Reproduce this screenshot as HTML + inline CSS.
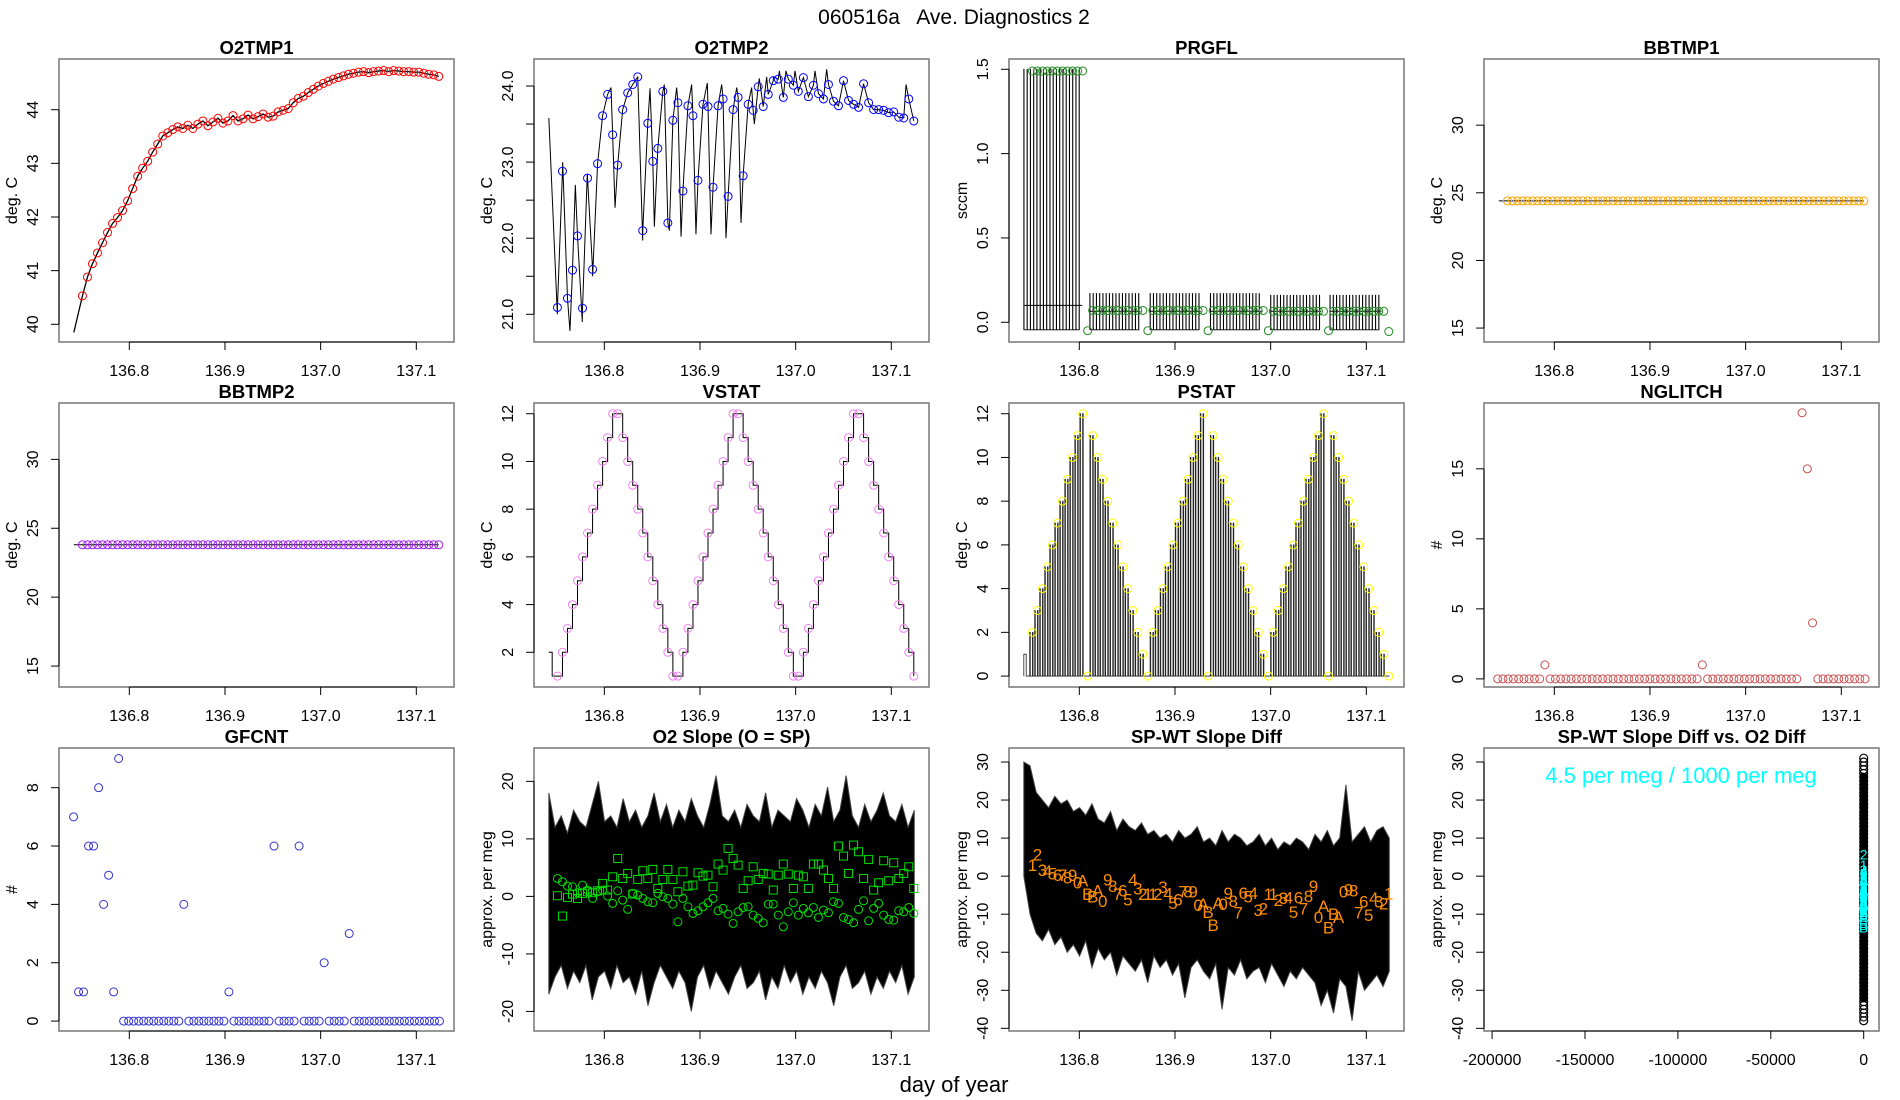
<!DOCTYPE html>
<html><head><meta charset="utf-8"><title>060516a Ave. Diagnostics 2</title>
<style>
html,body{margin:0;padding:0;background:#fff;}
svg{display:block;font-family:"Liberation Sans",Arial,sans-serif;}
</style></head>
<body>
<svg id="chart" width="1900" height="1100" viewBox="0 0 1900 1100" xmlns="http://www.w3.org/2000/svg">
<rect x="0" y="0" width="1900" height="1100" fill="#fff"/>
<text x="954" y="24" font-size="21" text-anchor="middle" xml:space="preserve">060516a   Ave. Diagnostics 2</text>
<text x="954" y="1092" font-size="22" text-anchor="middle">day of year</text>
</svg>
<script>
// ---------- data ----------
const T0 = 136.751, T1 = 137.1235;
const o2tmp1Vals = [40.53,40.88,41.13,41.33,41.52,41.71,41.88,41.99,42.12,42.30,42.53,42.76,42.91,43.04,43.21,43.36,43.51,43.57,43.63,43.68,43.65,43.71,43.65,43.73,43.79,43.70,43.77,43.84,43.75,43.79,43.89,43.79,43.83,43.90,43.83,43.87,43.92,43.86,43.88,43.96,43.99,44.02,44.13,44.21,44.25,44.32,44.38,44.44,44.49,44.53,44.57,44.60,44.63,44.66,44.68,44.70,44.71,44.69,44.71,44.72,44.73,44.71,44.73,44.72,44.71,44.71,44.70,44.70,44.68,44.66,44.65,44.62];
const o2tmp2Vals = [21.09,22.88,21.21,21.58,22.03,21.08,22.79,21.59,22.98,23.61,23.89,23.36,22.96,23.69,23.91,24.02,24.12,22.10,23.51,23.01,23.18,23.93,22.20,23.55,23.78,22.62,23.74,23.61,22.76,23.76,23.73,22.67,23.74,23.83,22.55,23.69,23.85,22.82,23.76,23.68,23.99,23.73,23.89,24.07,24.09,23.85,24.09,24.01,23.93,24.11,23.86,24.01,23.90,23.83,24.02,23.80,23.74,24.07,23.81,23.76,23.72,24.03,23.78,23.69,23.69,23.68,23.65,23.66,23.59,23.58,23.83,23.54];
const o2tmp2ExtT = [136.7509,136.7565,136.7641,136.7697,136.7770,136.7822,136.7878,136.8070,136.8112,136.8349,136.8401,136.8478,136.8523,136.8627,136.8680,136.8756,136.8802,136.8913,136.8958,136.9077,136.9115,136.9227,136.9272,136.9384,136.9429,136.9540,136.9568,136.9620,136.9697,136.9767,136.9830,136.9899,136.9993,137.0202,137.0324,137.1154];
const o2tmp2ExtV = [21.0,23.0,20.78,22.7,20.9,22.85,21.5,23.98,22.4,24.12,21.97,23.97,22.15,24.02,22.1,23.98,22.02,24.02,22.05,24.04,22.05,24.02,22.0,23.98,22.2,23.98,23.5,24.1,24.12,24.12,24.2,24.2,24.2,24.2,24.22,24.02];
const prgVals = [1.49,1.49,1.49,1.49,1.49,1.49,1.49,1.49,1.49,1.49,1.49,-0.05,0.07,0.07,0.07,0.07,0.07,0.07,0.07,0.07,0.07,0.07,0.07,-0.05,0.07,0.07,0.07,0.07,0.07,0.07,0.07,0.07,0.07,0.07,0.07,-0.05,0.07,0.07,0.07,0.07,0.07,0.07,0.07,0.07,0.07,0.07,0.07,-0.05,0.065,0.065,0.065,0.065,0.065,0.065,0.065,0.065,0.065,0.065,0.065,-0.05,0.065,0.065,0.065,0.065,0.065,0.065,0.065,0.065,0.065,0.065,0.065,-0.055];
const prgSecStart = [136.742,136.811,136.874,136.937,137.000,137.062];
const prgSecEnd   = [136.803,136.864,136.927,136.991,137.053,137.116];
const prgSecHi    = [1.50,0.17,0.17,0.17,0.16,0.16];
const bbtmp1Vals = [24.4,24.4,24.4,24.4,24.4,24.4,24.4,24.4,24.4,24.4,24.4,24.4,24.4,24.4,24.4,24.4,24.4,24.4,24.4,24.4,24.4,24.4,24.4,24.4,24.4,24.4,24.4,24.4,24.4,24.4,24.4,24.4,24.4,24.4,24.4,24.4,24.4,24.4,24.4,24.4,24.4,24.4,24.4,24.4,24.4,24.4,24.4,24.4,24.4,24.4,24.4,24.4,24.4,24.4,24.4,24.4,24.4,24.4,24.4,24.4,24.4,24.4,24.4,24.4,24.4,24.4,24.4,24.4,24.4,24.4,24.4,24.4];
const bbtmp2Vals = [23.8,23.8,23.8,23.8,23.8,23.8,23.8,23.8,23.8,23.8,23.8,23.8,23.8,23.8,23.8,23.8,23.8,23.8,23.8,23.8,23.8,23.8,23.8,23.8,23.8,23.8,23.8,23.8,23.8,23.8,23.8,23.8,23.8,23.8,23.8,23.8,23.8,23.8,23.8,23.8,23.8,23.8,23.8,23.8,23.8,23.8,23.8,23.8,23.8,23.8,23.8,23.8,23.8,23.8,23.8,23.8,23.8,23.8,23.8,23.8,23.8,23.8,23.8,23.8,23.8,23.8,23.8,23.8,23.8,23.8,23.8,23.8];
const vstatVals = [1,2,3,4,5,6,7,8,9,10,11,12,12,11,10,9,8,7,6,5,4,3,2,1,1,2,3,4,5,6,7,8,9,10,11,12,12,11,10,9,8,7,6,5,4,3,2,1,1,2,3,4,5,6,7,8,9,10,11,12,12,11,10,9,8,7,6,5,4,3,2,1];
const pstatVals = [2,3,4,5,6,7,8,9,10,11,12,0,11,10,9,8,7,6,5,4,3,2,1,0,2,3,4,5,6,7,8,9,10,11,12,0,11,10,9,8,7,6,5,4,3,2,1,0,2,3,4,5,6,7,8,9,10,11,12,0,11,10,9,8,7,6,5,4,3,2,1,0];
const nglT0 = 136.7408, nglT1 = 137.1248;
const nglitchVals = [0,0,0,0,0,0,0,0,0,1,0,0,0,0,0,0,0,0,0,0,0,0,0,0,0,0,0,0,0,0,0,0,0,0,0,0,0,0,0,1,0,0,0,0,0,0,0,0,0,0,0,0,0,0,0,0,0,0,19,15,4,0,0,0,0,0,0,0,0,0,0];
const gfT0 = 136.7417, gfT1 = 137.1242;
const gfcntVals = [7,1,1,6,6,8,4,5,1,9,0,0,0,0,0,0,0,0,0,0,0,0,4,0,0,0,0,0,0,0,0,1,0,0,0,0,0,0,0,0,6,0,0,0,0,6,0,0,0,0,2,0,0,0,0,3,0,0,0,0,0,0,0,0,0,0,0,0,0,0,0,0,0,0];
const slopeCircVals = [3.12,2.55,1.79,1.68,0.63,1.97,1.10,-0.35,0.81,1.10,0.05,-1.22,0.98,-0.64,-2.26,0.52,0.23,-0.35,-0.93,-1.11,0.52,-0.06,-0.35,-1.34,-4.41,-0.35,-1.80,-2.96,-2.50,-1.80,-1.11,-0.35,-2.50,-2.09,-3.08,-4.70,-2.67,-1.92,-1.80,-3.25,-3.83,-4.59,-1.34,-1.34,-3.25,-5.28,-2.67,-1.11,-3.25,-2.09,-2.85,-1.92,-3.66,-2.38,-2.85,-0.93,-1.22,-3.66,-4.01,-4.59,-2.26,-0.76,-4.24,-2.09,-1.22,-3.25,-4.01,-4.12,-2.50,-2.67,-1.92,-2.96];
const slopeSqVals = [0.11,-3.42,-0.18,0.40,-0.35,0.52,0.81,0.63,0.98,2.26,1.10,3.41,6.60,3.12,4.00,0.40,2.95,4.46,3.12,4.69,1.39,2.95,4.69,2.95,0.81,4.28,1.79,1.97,4.11,3.53,3.70,1.68,5.62,4.57,8.35,6.60,5.44,1.39,2.72,5.15,2.95,4.00,3.88,1.10,3.70,5.62,3.88,1.39,3.70,3.41,1.39,5.62,5.62,4.57,3.12,1.39,8.75,7.01,4.00,8.92,7.76,3.12,6.43,1.10,2.37,6.20,2.72,5.85,3.12,4.00,5.15,1.39];
const noiseT0 = 136.742, noiseT1 = 137.124;
const slopeHi = [18,12,14,11,15,13,12,16,20,13,14,12,17,13,15,12,14,18,13,16,12,15,13,17,14,12,16,21,14,13,15,12,16,14,13,18,12,15,14,13,17,15,12,16,14,19,13,15,21,14,12,16,13,15,18,14,13,16,12,15];
const slopeLo = [-17,-14,-12,-16,-13,-15,-12,-18,-14,-13,-16,-12,-15,-14,-17,-13,-19,-15,-12,-14,-16,-13,-15,-20,-14,-12,-16,-13,-15,-17,-14,-12,-16,-15,-13,-18,-14,-16,-12,-15,-13,-17,-14,-16,-13,-15,-19,-14,-12,-16,-15,-13,-17,-14,-16,-13,-15,-12,-17,-14];
const spwtHi = [30,29,22,20,18,21,19,20,17,18,16,19,15,14,17,12,15,13,12,14,11,12,10,11,9,12,10,11,13,9,10,8,12,9,11,10,8,9,11,8,10,7,9,8,10,9,7,11,9,12,8,10,24,9,11,13,9,12,13,10];
const spwtLo = [0,-10,-15,-17,-14,-18,-16,-20,-18,-21,-17,-24,-19,-22,-20,-26,-21,-23,-25,-22,-28,-21,-24,-22,-26,-23,-32,-24,-22,-25,-27,-23,-35,-24,-26,-22,-27,-25,-24,-28,-23,-26,-29,-25,-27,-24,-26,-28,-34,-30,-36,-27,-29,-38,-25,-30,-28,-26,-29,-25];
const spwtLabelVals = [2.9,5.7,1.6,1.3,0.7,0.3,0.3,-0.4,0.3,-1.7,-1.2,-4.7,-5.4,-3.8,-6.5,-0.9,-2.6,-4.7,-3.8,-6.1,-0.9,-3.2,-4.7,-4.7,-4.7,-4.7,-2.8,-4.5,-7.0,-6.1,-4.1,-4.1,-4.1,-7.6,-7.3,-9.4,-12.9,-7.0,-7.3,-4.4,-6.5,-9.6,-4.4,-5.4,-4.4,-8.9,-8.5,-4.7,-4.7,-6.3,-5.8,-5.6,-9.4,-5.6,-8.5,-5.2,-2.6,-10.7,-7.9,-13.5,-10.0,-10.7,-4.1,-3.5,-3.8,-9.6,-6.7,-10.2,-5.8,-6.7,-7.2,-4.5];
const codeChars = ['','1','2','3','4','5','6','7','8','9','0','A','B'];
const scatterY = [31,30,29,28,27,26,25,24,23,22,21,20,19,18,17,16,15,14,13,12,11,10,9,8,7,6,5,4,3,2,1,0,-1,-2,-3,-4,-5,-6,-7,-8,-9,-10,-11,-12,-13,-14,-15,-16,-17,-18,-19,-20,-21,-22,-23,-24,-25,-26,-27,-28,-29,-30,-31,-32,-33,-34,-35,-36,-37,-38];
const scatterX = [0];
const dayTicks = [136.8,136.9,137.0,137.1];
const dayTickLabels = ['136.8','136.9','137.0','137.1'];
const diffTicks = [-200000,-150000,-100000,-50000,0];
const diffTickLabels = ['-200000','-150000','-100000','-50000','0'];

// ---------- layout ----------
const NS = 'http://www.w3.org/2000/svg';
const svg = document.getElementById('chart');
const COLS = [59,534,1009,1484], PW = 395;
const ROWS = [[59,342],[403,687],[748,1031]];
const XLIM = [136.7265,137.1394];

function mk(tag, attrs, parent){
  const e = document.createElementNS(NS, tag);
  for (const k in attrs) e.setAttribute(k, attrs[k]);
  (parent || svg).appendChild(e);
  return e;
}
function times(a, b, n){ const r=[]; for(let i=0;i<n;i++) r.push(a + (b-a)*i/(n-1)); return r; }

function panel(p){
  const L = COLS[p.col], T = ROWS[p.row][0], B = ROWS[p.row][1];
  const xl = p.xlim || XLIM;
  const g = mk('g', {});
  
  
  const sx = v => L + (v - xl[0]) / (xl[1] - xl[0]) * PW;
  const sy = v => B - (v - p.ylim[0]) / (p.ylim[1] - p.ylim[0]) * (B - T);
  const box = mk('rect', {x:L, y:T, width:PW, height:B-T, fill:'none', stroke:'#777', 'stroke-width':1.5}, g);
  
  
  const tt = mk('text', {x:L+PW/2, y:T-5, 'font-size':18.5, 'font-weight':'bold', 'text-anchor':'middle'}, g);
  tt.textContent = p.title;
  
  
  const xt = p.xticks || dayTicks, xtl = p.xlabels || dayTickLabels;
  const xa = mk('line', {x1:sx(xt[0]), x2:sx(xt[xt.length-1]), y1:B, y2:B, stroke:'#000', 'stroke-width':1}, g);
  
  
  xt.forEach((v,i)=>{
    const tk = mk('line', {x1:sx(v), x2:sx(v), y1:B, y2:B+8, stroke:'#000'}, g);
    
    
    const lb = mk('text', {x:sx(v), y:B+34, 'font-size':16, 'text-anchor':'middle'}, g);
    lb.textContent = xtl[i];
    
    
  });
  const yt = p.yticks;
  const ya = mk('line', {x1:L, x2:L, y1:sy(yt[0]), y2:sy(yt[yt.length-1]), stroke:'#000'}, g);
  
  
  yt.forEach((v,i)=>{
    const tk = mk('line', {x1:L-8, x2:L, y1:sy(v), y2:sy(v), stroke:'#000'}, g);
    
    
    if (p.ylabels[i] !== '') {
      const lb = mk('text', {x:0, y:0, 'font-size':16, 'text-anchor':'middle', transform:`translate(${L-21},${sy(v)}) rotate(-90)`}, g);
      lb.textContent = p.ylabels[i];
      
      
    }
  });
  const yl = mk('text', {x:0, y:0, 'font-size':16, 'text-anchor':'middle', transform:`translate(${L-42},${(T+B)/2}) rotate(-90)`}, g);
  yl.textContent = p.ylab;
  
  
  return {g, sx, sy, L, T, B};
}
function circles(P, ts, vs, color, name){
  vs.forEach((v,i)=>{
    const c = mk('circle', {cx:P.sx(ts[i]), cy:P.sy(v), r:4, fill:'none', stroke:color, 'stroke-width':1}, P.g);
    
    
  });
}
function polyline(P, pts, color, name, w){
  const d = pts.map((p,i)=>(i?'L':'M')+P.sx(p[0]).toFixed(2)+','+P.sy(p[1]).toFixed(2)).join('');
  const e = mk('path', {d, fill:'none', stroke:color, 'stroke-width':w||1}, P.g);
  
  
  return e;
}
function envelope(P, hi, lo, t0, t1, name){
  const th = times(t0, t1, hi.length), tl = times(t0, t1, lo.length);
  const pts = th.map((t,i)=>[t,hi[i]]).concat(tl.map((t,i)=>[t,lo[i]]).reverse());
  const d = pts.map((p,i)=>(i?'L':'M')+P.sx(p[0]).toFixed(2)+','+P.sy(p[1]).toFixed(2)).join('')+'Z';
  const e = mk('path', {d, fill:'#000', stroke:'#444', 'stroke-width':1}, P.g);
  
  
}
const N = 72, tStd = times(T0, T1, N);
const dt = (T1 - T0) / (N - 1);

// 1 O2TMP1
{
  const P = panel({name:'o2tmp1', col:0, row:0, ylim:[39.67,44.945], title:'O2TMP1', ylab:'deg. C', yticks:[40,41,42,43,44], ylabels:['40','41','42','43','44']});
  polyline(P, [[136.742,39.85]].concat(tStd.map((t,i)=>[t,o2tmp1Vals[i]])), '#000', 'o2tmp1-line', 1.3);
  circles(P, tStd, o2tmp1Vals, '#ff0000', 'o2tmp1-point');
}
// 2 O2TMP2
{
  const P = panel({name:'o2tmp2', col:1, row:0, ylim:[20.636,24.355], title:'O2TMP2', ylab:'deg. C', yticks:[21,21.5,22,22.5,23,23.5,24], ylabels:['21.0','','22.0','','23.0','','24.0']});
  const pts = [[136.742,23.58]].concat(tStd.map((t,i)=>[t,o2tmp2Vals[i]]), o2tmp2ExtT.map((t,i)=>[t,o2tmp2ExtV[i]]));
  pts.sort((a,b)=>a[0]-b[0]);
  polyline(P, pts, '#000', 'o2tmp2-line', 1);
  circles(P, tStd, o2tmp2Vals, '#0000ff', 'o2tmp2-point');
}
// 3 PRGFL
{
  const P = panel({name:'prgfl', col:2, row:0, ylim:[-0.117,1.561], title:'PRGFL', ylab:'sccm', yticks:[0,0.5,1,1.5], ylabels:['0.0','0.5','1.0','1.5']});
  prgSecStart.forEach((s,k)=>{
    const pts = [];
    for (let t = s; t <= prgSecEnd[k] + 1e-9; t += 0.0034) {
      pts.push([t,-0.045],[t,prgSecHi[k]],[t+0.0002,prgSecHi[k]],[t+0.0002,-0.045]);
    }
    polyline(P, pts, '#000', 'prgfl-spikes', 0.9);
    polyline(P, [[s, k===0?0.1:0.065],[prgSecEnd[k], k===0?0.1:0.065]], '#000', 'prgfl-base-line', 1);
  });
  circles(P, tStd, prgVals, '#228b22', 'prgfl-point');
}
// 4 BBTMP1
{
  const P = panel({name:'bbtmp1', col:3, row:0, ylim:[13.97,34.89], title:'BBTMP1', ylab:'deg. C', yticks:[15,20,25,30], ylabels:['15','20','25','30']});
  polyline(P, [[136.742,bbtmp1Vals[0]]].concat(tStd.map((t,i)=>[t,bbtmp1Vals[i]])), '#000', 'bbtmp1-line', 1);
  circles(P, tStd, bbtmp1Vals, '#ffa500', 'bbtmp1-point');
}
// 5 BBTMP2
{
  const P = panel({name:'bbtmp2', col:0, row:1, ylim:[13.48,34.09], title:'BBTMP2', ylab:'deg. C', yticks:[15,20,25,30], ylabels:['15','20','25','30']});
  polyline(P, [[136.742,bbtmp2Vals[0]]].concat(tStd.map((t,i)=>[t,bbtmp2Vals[i]])), '#000', 'bbtmp2-line', 1);
  circles(P, tStd, bbtmp2Vals, '#a020f0', 'bbtmp2-point');
}
// 6 VSTAT
{
  const P = panel({name:'vstat', col:1, row:1, ylim:[0.545,12.45], title:'VSTAT', ylab:'deg. C', yticks:[2,4,6,8,10,12], ylabels:['2','4','6','8','10','12']});
  const pts = [[136.742,2],[136.7455,2],[136.7455,1]];
  tStd.forEach((t,i)=>{ if(i>0){ pts.push([t,vstatVals[i-1]]); } pts.push([t,vstatVals[i]]); });
  polyline(P, pts, '#000', 'vstat-step-line', 1);
  circles(P, tStd, vstatVals, '#ee82ee', 'vstat-point');
}
// 7 PSTAT
{
  const P = panel({name:'pstat', col:2, row:1, ylim:[-0.5,12.49], title:'PSTAT', ylab:'deg. C', yticks:[0,2,4,6,8,10,12], ylabels:['0','2','4','6','8','10','12']});
  const pts = [[136.742,0],[136.742,1],[136.7445,1],[136.7445,0]];
  tStd.forEach((t,i)=>{
    const v = pstatVals[i];
    [0.55,0].forEach(o=>{
      const a = t - o*dt, w = 0.12*dt;
      pts.push([a,0],[a,v],[a+w,v],[a+w,0]);
    });
  });
  polyline(P, pts, '#222', 'pstat-pulse-line', 0.8);
  circles(P, tStd, pstatVals, '#ffff00', 'pstat-point');
}
// 8 NGLITCH
{
  const P = panel({name:'nglitch', col:3, row:1, ylim:[-0.58,19.7], title:'NGLITCH', ylab:'#', yticks:[0,5,10,15], ylabels:['0','5','10','15']});
  circles(P, times(nglT0, nglT1, nglitchVals.length), nglitchVals, '#cd4f4f', 'nglitch-point');
}
// 9 GFCNT
{
  const P = panel({name:'gfcnt', col:0, row:2, ylim:[-0.34,9.36], title:'GFCNT', ylab:'#', yticks:[0,2,4,6,8], ylabels:['0','2','4','6','8']});
  circles(P, times(gfT0, gfT1, gfcntVals.length), gfcntVals, '#3333cc', 'gfcnt-point');
}
// 10 O2 Slope
{
  const P = panel({name:'o2-slope', col:1, row:2, ylim:[-23.4,25.8], title:'O2 Slope (O = SP)', ylab:'approx. per meg', yticks:[-20,-10,0,10,20], ylabels:['-20','-10','0','10','20']});
  envelope(P, slopeHi, slopeLo, noiseT0, noiseT1, 'o2-slope-noise-band');
  tStd.forEach((t,i)=>{
    const s = mk('rect', {x:P.sx(t)-4, y:P.sy(slopeSqVals[i])-4, width:8, height:8, fill:'none', stroke:'#00e000', 'stroke-width':1}, P.g);
    
    
  });
  circles(P, tStd, slopeCircVals, '#00e000', 'o2-slope-circle-point');
}
// 11 SP-WT Slope Diff
{
  const P = panel({name:'spwt-slope-diff', col:2, row:2, ylim:[-40.7,33.68], title:'SP-WT Slope Diff', ylab:'approx. per meg', yticks:[-40,-30,-20,-10,0,10,20,30], ylabels:['-40','-30','-20','-10','0','10','20','30']});
  envelope(P, spwtHi, spwtLo, noiseT0, noiseT1, 'spwt-noise-band');
  tStd.forEach((t,i)=>{
    const tx = mk('text', {x:P.sx(t), y:P.sy(spwtLabelVals[i])+6, 'font-size':17, fill:'#ff8c00', 'text-anchor':'middle'}, P.g);
    tx.textContent = codeChars[vstatVals[i]];
    
    
  });
}
// 12 SP-WT vs O2 Diff
{
  const P = panel({name:'spwt-vs-o2', col:3, row:2, xlim:[-204360,8235], xticks:diffTicks, xlabels:diffTickLabels, ylim:[-40.7,33.68], title:'SP-WT Slope Diff vs. O2 Diff', ylab:'approx. per meg', yticks:[-40,-30,-20,-10,0,10,20,30], ylabels:['-40','-30','-20','-10','0','10','20','30']});
  scatterY.forEach(v=>{
    const c = mk('circle', {cx:P.sx(scatterX[0]), cy:P.sy(v), r:4, fill:'none', stroke:'#000', 'stroke-width':1.2}, P.g);
    
    
  });
  const col = mk('rect', {x:P.sx(0)-3.5, y:P.sy(27), width:7, height:P.sy(-33)-P.sy(27), fill:'#000'}, P.g);
  
  
  spwtLabelVals.forEach((v,i)=>{
    const tx = mk('text', {x:P.sx(scatterX[0]), y:P.sy(v)+5, 'font-size':14, fill:'#00ffff', 'text-anchor':'middle'}, P.g);
    tx.textContent = codeChars[vstatVals[i]];
    
    
  });
  const ann = mk('text', {x:1681, y:783, 'font-size':22, fill:'#00ffff', 'text-anchor':'middle'}, P.g);
  ann.textContent = '4.5 per meg / 1000 per meg';
  
  
}
</script>
</body></html>
